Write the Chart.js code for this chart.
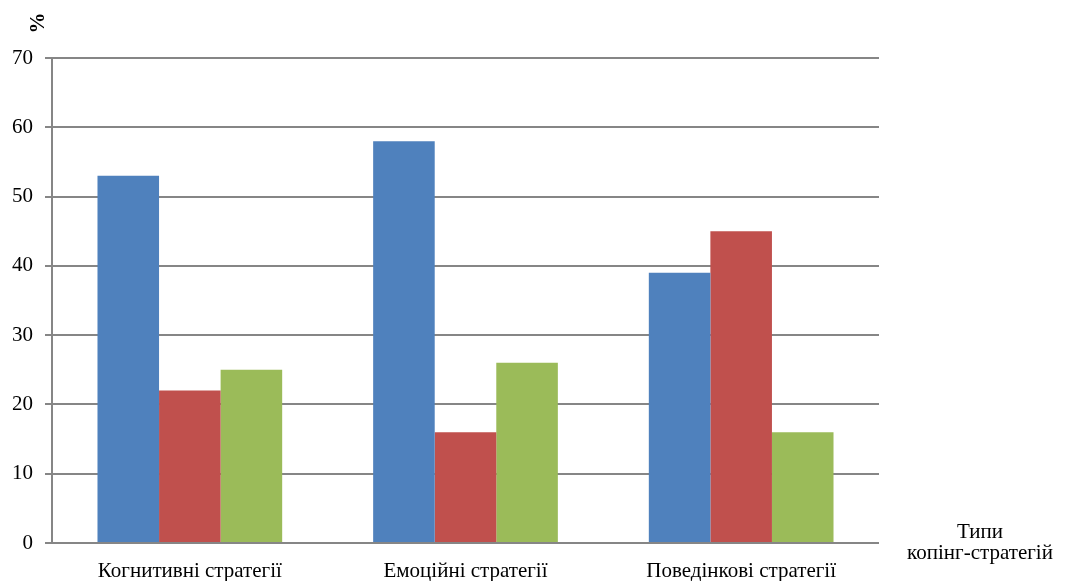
<!DOCTYPE html>
<html lang="uk">
<head>
    <meta charset="UTF-8">
    <title>Типи копінг-стратегій</title>
    <script src="https://cdn.jsdelivr.net/npm/chart.js@4.4.1/dist/chart.umd.min.js"></script>
    <style>
        body { margin: 0; background: #fff; }
        #chart { display: block; }
    </style>
</head>
<body>
    <canvas id="chart" width="1072" height="581"></canvas>
<script>
    // data
    const categories = ['Когнитивні стратегії', 'Емоційні стратегії', 'Поведінкові стратегії'];
    const series1 = [53, 58, 39];
    const series2 = [22, 16, 45];
    const series3 = [25, 26, 16];
    const yTicks = [0, 10, 20, 30, 40, 50, 60, 70];

    const gridColor = '#868686';
    const serif = '"Liberation Serif", "Times New Roman", serif';

    // extra texts: the % unit on the left and the axis name on the right
    const labelsPlugin = {
        id: 'extraLabels',
        afterDraw(chart) {
            const c = chart.ctx;
            c.save();
            c.fillStyle = '#000';
            c.font = 'bold 21px ' + serif;
            c.translate(39, 23);
            c.rotate(-Math.PI / 2);
            c.textAlign = 'center';
            c.textBaseline = 'middle';
            c.fillText('%', 0, 0);
            c.restore();

            c.save();
            c.fillStyle = '#000';
            c.font = '21px ' + serif;
            c.textAlign = 'center';
            c.textBaseline = 'middle';
            c.fillText('Типи', 980, 532);
            c.fillText('копінг-стратегій', 980, 553);
            c.restore();
        }
    };

    const ctx = document.getElementById('chart').getContext('2d');
    const myChart = new Chart(ctx, {
        type: 'bar',
        data: {
            labels: categories,
            datasets: [
                { data: series1, backgroundColor: '#4F81BD' },
                { data: series2, backgroundColor: '#C0504D' },
                { data: series3, backgroundColor: '#9BBB59' }
            ]
        },
        options: {
            responsive: false,
            animation: false,
            layout: { padding: { left: 0, right: 193, top: 58, bottom: 0 } },
            datasets: {
                bar: { categoryPercentage: 0.67, barPercentage: 1.0 }
            },
            plugins: {
                legend: { display: false },
                tooltip: { enabled: false }
            },
            scales: {
                x: {
                    grid: { display: false },
                    border: { display: false },
                    ticks: {
                        color: '#000',
                        font: { family: serif, size: 21 },
                        padding: 8,
                        maxRotation: 0
                    },
                    afterFit(scale) { scale.height = 38; }
                },
                y: {
                    min: 0,
                    max: 70,
                    afterBuildTicks(scale) {
                        scale.ticks = yTicks.map(v => ({ value: v }));
                    },
                    grid: {
                        color: gridColor,
                        lineWidth: 2,
                        tickLength: 7
                    },
                    border: { display: true, color: gridColor, width: 2 },
                    ticks: {
                        color: '#000',
                        font: { family: serif, size: 21 },
                        padding: 12
                    },
                    afterFit(scale) { scale.width = 52; }
                }
            }
        },
        plugins: [labelsPlugin]
    });
</script>
</body>
</html>
